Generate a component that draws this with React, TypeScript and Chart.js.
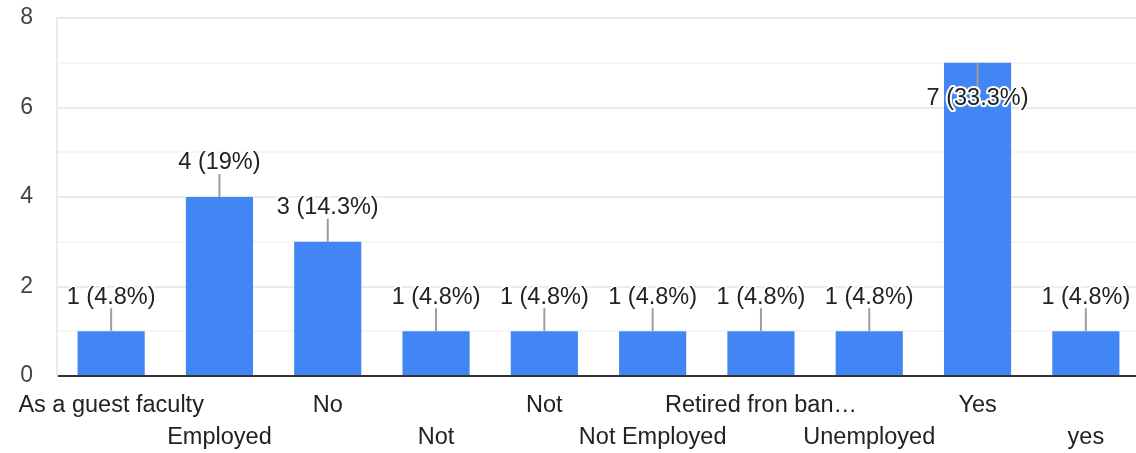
import React, { useEffect, useRef } from 'react';
import { Chart, registerables } from 'chart.js';

Chart.register(...registerables);

const categories = [
  'As a guest faculty',
  'Employed',
  'No',
  'Not',
  'Not',
  'Not Employed',
  'Retired fron ban…',
  'Unemployed',
  'Yes',
  'yes',
];
const counts = [1, 4, 3, 1, 1, 1, 1, 1, 7, 1];
const yTickValues = [0, 2, 4, 6, 8];

const FONT = '"Liberation Sans", Arial, sans-serif';
const BAR_COLOR = '#4285F4';

function pctLabel(v: number, total: number): string {
  const p = Math.round((v / total) * 1000) / 10;
  return `${v} (${p}%)`;
}

const barLabels = {
  id: 'barLabels',
  afterDatasetsDraw(chart: any) {
    const ctx = chart.ctx as CanvasRenderingContext2D;
    const meta = chart.getDatasetMeta(0);
    const data = chart.data.datasets[0].data as number[];
    const total = data.reduce((a, b) => a + b, 0);
    ctx.save();
    ctx.font = `23.5px ${FONT}`;
    ctx.textAlign = 'center';
    ctx.textBaseline = 'middle';
    meta.data.forEach((bar: any, i: number) => {
      const { x, y } = bar.getProps(['x', 'y'], true);
      const inside = y - 47 < chart.chartArea.top;
      const lineEnd = inside ? y + 25 : y - 23;
      const textY = inside ? y + 36 : y - 34;
      ctx.strokeStyle = '#9e9e9e';
      ctx.lineWidth = 2;
      ctx.beginPath();
      ctx.moveTo(x, y);
      ctx.lineTo(x, lineEnd);
      ctx.stroke();
      const txt = pctLabel(data[i], total);
      ctx.lineJoin = 'round';
      ctx.lineWidth = 4;
      ctx.strokeStyle = '#ffffff';
      ctx.strokeText(txt, x, textY);
      ctx.fillStyle = '#222222';
      ctx.fillText(txt, x, textY);
    });
    ctx.restore();
  },
};

export default function App() {
  const ref = useRef<HTMLCanvasElement | null>(null);

  useEffect(() => {
    if (!ref.current) return;
    const chart = new Chart(ref.current, {
      type: 'bar',
      data: {
        labels: categories,
        datasets: [
          {
            data: counts,
            backgroundColor: BAR_COLOR,
            borderWidth: 0,
            barPercentage: 0.62,
            categoryPercentage: 1,
          },
        ],
      },
      options: {
        responsive: false,
        animation: false,
        devicePixelRatio: 1,
        layout: { padding: { top: 18, left: 0, right: 0, bottom: 0 } },
        plugins: {
          legend: { display: false },
          tooltip: { enabled: false },
        },
        scales: {
          x: {
            z: 1,
            grid: { display: false, drawTicks: false },
            border: { display: true, color: '#333333', width: 2 },
            ticks: {
              autoSkip: false,
              maxRotation: 0,
              minRotation: 0,
              padding: 14,
              color: '#222222',
              font: { family: FONT, size: 23.5, lineHeight: 1.36 },
              callback: (_v: any, i: number) =>
                i % 2 === 0 ? [categories[i]] : ['', categories[i]],
            },
            afterFit: (scale: any) => {
              scale.height = 77;
              scale.paddingLeft = 0;
              scale.paddingRight = 0;
            },
          },
          y: {
            min: 0,
            max: 8,
            grid: {
              drawTicks: false,
              lineWidth: 2,
              color: (c: any) =>
                yTickValues.includes(c.tick?.value) ? '#ebebeb' : '#f5f5f5',
            },
            border: { display: true, color: '#ebebeb', width: 2 },
            ticks: {
              stepSize: 1,
              padding: 24,
              color: '#444444',
              font: { family: FONT, size: 23 },
              callback: (v: any) => (yTickValues.includes(Number(v)) ? String(v) : ''),
            },
            afterFit: (scale: any) => {
              scale.width = 57;
              scale.paddingTop = 0;
              scale.paddingBottom = 0;
            },
          },
        },
      },
      plugins: [barLabels],
    });
    return () => chart.destroy();
  }, []);

  return (
    <div
      style={{
        position: 'fixed',
        left: 0,
        top: 0,
        width: 1136,
        height: 453,
        overflow: 'hidden',
        background: '#ffffff',
      }}
    >
      <canvas ref={ref} width={1140} height={453} style={{ display: 'block', width: 1140, height: 453 }} />
    </div>
  );
}
